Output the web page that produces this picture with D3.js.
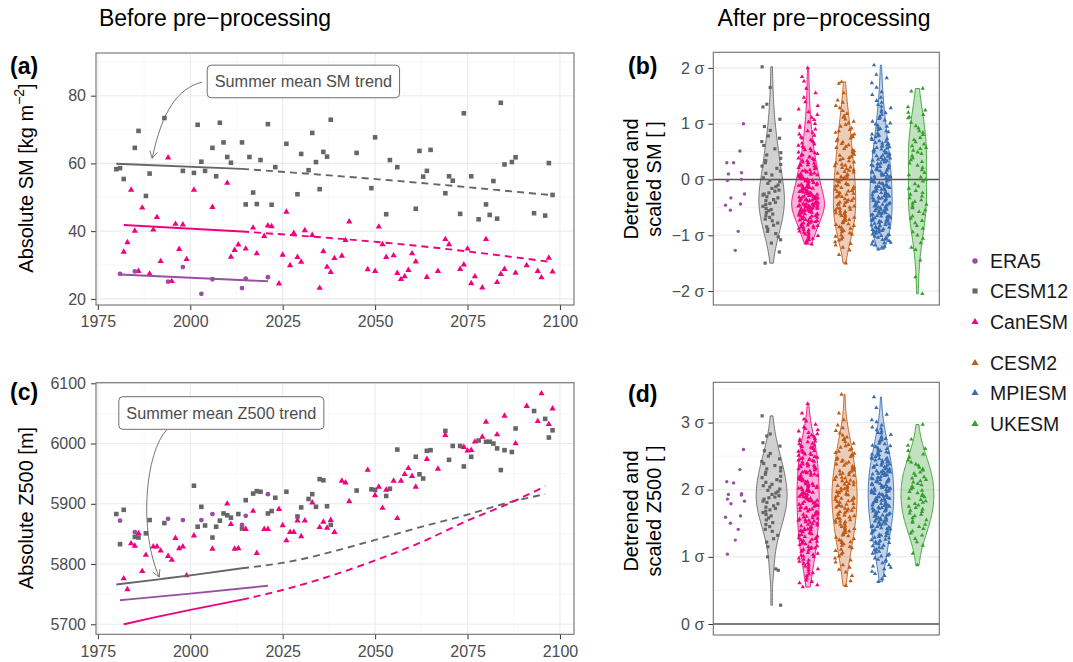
<!DOCTYPE html>
<html>
<head>
<meta charset="utf-8">
<script src="https://cdn.jsdelivr.net/npm/d3@7"></script>
<style>
  body { margin: 0; background: #fff; }
  svg text { font-family: "Liberation Sans", Arial, Helvetica, sans-serif; }
</style>
</head>
<body>
<svg id="chart" width="1073" height="662"></svg>
<script>
// ---- categories / ticks ----
const models = ["ERA5", "CESM12", "CanESM", "CESM2", "MPIESM", "UKESM"];
const modelColors = ["#984EA3", "#666666", "#F0027F", "#BF5B17", "#386CB0", "#33A02C"];
const yearTicks = [1975, 2000, 2025, 2050, 2075, 2100];
const smTicks = [20, 40, 60, 80];
const z500Ticks = [5700, 5800, 5900, 6000, 6100];
const sigmaTicksSM = [-2, -1, 0, 1, 2];
const sigmaTicksZ500 = [0, 1, 2, 3];

// ---- (a) summer mean SM, [year, kg m-2] ----
const smEra5 = [[1981,27.4],[1985,28.1],[1994,25.1],[1998,29.4],[2003,21.5],[2006,25.8],[2014,23.2],[2015,26.0],[2021,26.4]];
const smCesm12 = [[1980,58.3],[1981,58.6],[1982,55.4],[1985,64.6],[1986,69.6],[1988,50.4],[1989,57.0],[1993,73.4],[1998,57.8],[2001,57.2],[2002,71.4],[2003,60.5],[2004,57.8],[2006,64.6],[2007,56.2],[2008,72.0],[2009,66.2],[2010,61.9],[2011,60.2],[2014,66.2],[2015,47.9],[2016,61.9],[2017,51.4],[2018,48.0],[2019,61.0],[2021,71.6],[2022,47.8],[2023,58.9],[2026,65.8],[2029,50.9],[2030,62.8],[2032,58.0],[2033,69.0],[2034,60.4],[2035,52.4],[2036,63.4],[2037,62.0],[2038,72.9],[2045,63.1],[2049,52.7],[2050,67.7],[2053,45.0],[2054,61.0],[2056,58.9],[2061,46.6],[2062,63.7],[2063,56.1],[2064,57.8],[2065,64.0],[2069,51.2],[2070,56.2],[2071,54.9],[2073,45.1],[2074,74.8],[2076,56.2],[2078,43.5],[2080,47.9],[2081,44.8],[2082,54.8],[2083,43.7],[2084,77.9],[2085,59.7],[2087,60.4],[2088,61.8],[2093,45.3],[2096,44.6],[2097,60.1],[2098,50.7]];
const smCanesm = [[1982,33.9],[1983,36.7],[1984,52.2],[1985,40.1],[1986,28.2],[1987,46.9],[1989,27.4],[1990,40.4],[1991,44.1],[1992,31.1],[1994,61.7],[1995,25.2],[1996,42.1],[1997,34.7],[1998,41.9],[1999,31.7],[2001,52.2],[2006,47.1],[2010,54.2],[2011,32.4],[2012,34.4],[2013,36.0],[2015,34.8],[2017,41.0],[2018,33.4],[2020,38.5],[2021,41.6],[2022,41.4],[2024,24.5],[2025,33.0],[2026,45.7],[2027,29.9],[2028,39.4],[2029,32.3],[2030,30.9],[2031,40.2],[2033,38.8],[2035,23.2],[2036,34.0],[2037,29.4],[2038,27.9],[2039,32.0],[2041,32.7],[2042,37.3],[2043,42.8],[2048,28.7],[2050,28.2],[2051,41.3],[2052,36.1],[2053,32.3],[2055,32.8],[2056,27.6],[2057,25.8],[2058,26.6],[2059,28.5],[2060,33.4],[2061,31.0],[2064,26.4],[2067,28.2],[2069,37.6],[2070,36.1],[2073,28.8],[2074,30.1],[2075,34.8],[2076,24.6],[2077,26.6],[2079,23.3],[2080,37.6],[2083,24.9],[2084,27.3],[2085,28.8],[2088,27.7],[2091,29.9],[2094,28.2],[2095,26.3],[2097,32.1],[2098,28.0]];
// trends: historical (solid) and projection (dashed)
const smTrendEra5 = [[1981,27.2],[2021,25.2]];
const smTrendCesm12Hist = [[1980,59.9],[2014,58.4]];
const smTrendCesm12Proj = [[2014,58.4],[2051,55.3],[2097,50.7]];
const smTrendCanesmHist = [[1982,41.8],[2014,39.9]];
const smTrendCanesmProj = [[2014,39.9],[2062,35.6],[2097,31.0]];

// ---- (c) summer mean Z500, [year, m] ----
const zEra5 = [[1981,5872],[1985,5853],[1994,5875],[1998,5873],[2003,5873],[2006,5883],[2014,5865],[2015,5880],[2021,5916]];
const zCesm12 = [[1980,5883],[1981,5833],[1982,5890],[1985,5845],[1986,5844],[1988,5851],[1989,5873],[1993,5868],[2001,5930],[2002,5862],[2003,5895],[2004,5864],[2006,5844],[2007,5862],[2008,5872],[2009,5884],[2010,5881],[2011,5877],[2013,5883],[2014,5859],[2015,5906],[2017,5917],[2018,5921],[2019,5920],[2021,5884],[2022,5888],[2023,5910],[2026,5920],[2029,5879],[2030,5894],[2032,5908],[2033,5916],[2034,5895],[2035,5941],[2036,5939],[2037,5896],[2038,5865],[2045,5922],[2049,5924],[2050,5923],[2053,5913],[2054,5925],[2056,5990],[2061,5978],[2062,5949],[2063,5942],[2064,5988],[2065,5989],[2069,6021],[2070,5973],[2071,5996],[2073,5996],[2074,5962],[2076,5978],[2078,6005],[2080,6003],[2081,6003],[2082,6000],[2083,5992],[2084,5956],[2085,5989],[2087,5986],[2088,6025],[2093,6054],[2096,6041],[2097,6010],[2098,6022]];
const zCanesm = [[1982,5776],[1983,5758],[1984,5834],[1985,5830],[1986,5851],[1987,5788],[1988,5815],[1990,5829],[1991,5829],[1992,5822],[1994,5813],[1995,5807],[1996,5843],[1997,5826],[1998,5829],[1999,5781],[2001,5847],[2006,5825],[2010,5900],[2011,5866],[2012,5825],[2013,5826],[2015,5858],[2017,5888],[2018,5818],[2020,5858],[2021,5858],[2024,5891],[2025,5864],[2026,5839],[2027,5853],[2028,5853],[2029,5872],[2030,5846],[2031,5872],[2033,5902],[2035,5861],[2036,5870],[2037,5860],[2038,5873],[2039,5853],[2041,5938],[2042,5935],[2043,5904],[2048,5956],[2050,5914],[2051,5928],[2052,5893],[2053,5923],[2055,5938],[2056,5876],[2057,5938],[2058,5949],[2059,5959],[2060,5946],[2061,5928],[2064,5974],[2067,5958],[2069,6014],[2074,5994],[2075,5988],[2076,5989],[2077,6003],[2079,6011],[2080,6036],[2083,6015],[2085,6046],[2088,6000],[2091,6062],[2094,6037],[2095,6083],[2097,6032],[2098,6058]];
const zTrendEra5 = [[1981,5740],[2000,5751],[2021,5764]];
const zTrendCesm12Hist = [[1980,5766],[1992,5775],[2001,5782],[2014,5793]];
const zTrendCesm12Proj = [[2014,5793],[2025,5802],[2050,5840],[2062,5861],[2075,5882],[2086,5902],[2096,5916]];
const zTrendCanesmHist = [[1982,5700],[1990,5711],[2000,5724],[2014,5741]];
const zTrendCanesmProj = [[2014,5741],[2025,5757],[2050,5806],[2062,5835],[2075,5872],[2086,5900],[2096,5929]];

// ---- (b) detrended and scaled SM, values in hundredths of sigma ----
const vSmEra5 = [100,51,30,30,12,10,0,-2,-26,-33,-44,-46,-55,-93,-127];
const vSmCesm12 = [202,165,135,130,108,95,88,78,74,68,61,55,48,44,38,34,30,27,24,20,15,11,8,3,-2,-4,-7,-10,-13,-16,-19,-21,-24,-26,-28,-31,-33,-36,-38,-41,-43,-45,-48,-52,-54,-56,-59,-62,-65,-68,-71,-74,-78,-82,-85,-89,-93,-97,-103,-108,-114,-130,-150];
const vSmCanesm = [200,184,176,163,155,147,139,132,126,121,116,111,107,103,100,96,93,90,87,84,81,79,76,74,71,69,67,65,63,61,59,57,55,53,51,49,48,46,44,43,41,40,38,37,35,34,33,31,30,29,27,26,25,24,22,21,20,19,17,16,15,14,13,12,11,10,
  9,8,8,7,6,5,4,3,2,1,0,-1,-2,-2,-3,-4,-5,-6,-7,-8,-9,-10,-11,-11,-12,-13,-14,-15,-15,-16,-17,-18,-19,-20,
  -21,-21,-22,-23,-23,-24,-25,-26,-26,-27,-28,-29,-30,-31,-31,-32,-32,-33,-33,-34,-35,-35,-36,-36,-37,-37,-38,-39,-39,-40,
  -41,-41,-42,-42,-43,-43,-44,-44,-45,-45,-46,-46,-47,-47,-48,-48,-49,-50,-50,-51,-51,-52,-52,-53,-53,-54,-54,-55,-55,-56,-56,-57,-57,-58,-58,-59,-60,
  -61,-62,-62,-63,-64,-65,-66,-66,-67,-68,-69,-70,-71,-72,-73,-74,-74,-75,-76,-77,-78,-79,-80,
  -81,-82,-83,-84,-85,-86,-87,-88,-90,-91,-93,-94,-95,-97,-98,-100,-101,-103,-104,-106,-108,-110,-112,-114,-116];
const vSmCesm2 = [175,172,155,142,138,132,128,123,118,114,111,108,104,101,98,95,92,89,87,84,81,79,76,74,72,69,67,64,62,59,57,55,53,51,49,47,45,43,41,39,37,35,33,31,29,27,25,24,22,21,19,17,16,14,13,11,9,8,6,5,3,1,
  -1,-2,-4,-5,-7,-8,-10,-11,-12,-14,-15,-17,-18,-20,-21,-22,-24,-25,-27,-28,-30,-31,-32,-34,-35,-37,-38,-40,
  -41,-42,-44,-45,-47,-48,-50,-51,-52,-54,-55,-57,-58,-60,-61,-62,-64,-65,-67,-68,-70,-71,-72,-74,-75,-77,-78,-80,
  -81,-83,-85,-86,-88,-90,-92,-94,-96,-98,-100,-102,-104,-107,-109,-112,-115,-118,-122,-127,-135,-150];
const vSmMpiesm = [205,188,182,173,165,157,152,147,141,138,134,131,128,124,121,119,116,113,111,109,106,104,101,99,97,95,93,91,89,87,85,83,81,79,78,76,74,73,71,69,68,66,65,64,62,61,59,58,57,56,54,53,52,51,49,48,47,46,44,43,42,41,
  39,38,37,36,35,34,33,32,31,29,28,27,26,25,24,23,22,21,19,18,17,16,15,14,13,13,12,11,9,8,7,7,6,5,4,3,2,1,
  -1,-2,-3,-3,-4,-5,-6,-7,-8,-9,-10,-11,-12,-13,-13,-14,-15,-16,-17,-18,-19,-20,-21,-22,-23,-23,-24,-25,-26,-27,-28,-29,-30,
  -31,-32,-33,-33,-34,-35,-36,-37,-38,-39,-40,-41,-42,-43,-44,-44,-45,-46,-47,-48,-49,-50,-51,-52,-53,-54,-54,-55,-56,-57,-58,-59,-60,
  -61,-62,-63,-64,-65,-65,-66,-67,-68,-69,-70,-71,-72,-73,-74,-75,-75,-76,-77,-78,-79,-80,-81,-82,-83,-84,-85,-86,-87,-88,-89,-90,
  -91,-92,-93,-94,-95,-97,-98,-99,-100,-101,-102,-104,-105,-107,-108,-110,-111,-113,-114,-116,-118,-120,-122,-125];
const vSmUkesm = [163,158,130,124,120,116,112,110,102,96,92,87,84,80,75,71,67,63,60,57,55,52,49,46,42,38,35,32,29,25,21,17,12,8,4,0,-3,-8,-12,-16,-20,-24,-27,-30,-33,-37,-40,-43,-45,-48,-51,-55,-58,-62,-66,-70,-74,-78,-83,-88,-94,-100,-106,-114,-122,-126,-145,-175,-205];

// ---- (d) detrended and scaled Z500, values in hundredths of sigma ----
const vZEra5 = [260,230,212,210,194,193,192,186,183,179,161,159,150,141,125,104];
const vZCesm12 = [310,283,280,270,265,258,254,250,246,242,239,236,233,231,228,226,223,220,218,215,213,211,208,206,204,201,199,197,195,193,191,189,188,186,183,181,179,176,174,172,170,168,166,163,161,158,155,151,148,145,141,138,132,127,122,115,100,82,80,28];
const vZCanesm = [328,314,305,302,297,293,291,289,287,285,283,281,279,278,276,275,273,272,271,269,268,266,265,264,263,262,261,
  259,258,257,256,255,254,253,252,251,249,248,247,246,245,245,244,243,242,241,239,238,237,236,236,235,234,233,232,231,231,
  229,228,227,226,226,225,224,223,222,221,221,219,218,217,216,216,215,214,213,212,211,211,209,208,207,206,206,205,204,203,203,202,201,200,
  199,198,197,196,196,195,194,193,193,192,191,190,189,188,187,186,186,185,184,183,183,182,181,180,179,178,177,176,176,175,174,173,173,172,171,170,
  169,168,167,166,165,164,164,163,162,161,160,159,158,157,156,155,154,154,153,152,151,150,149,148,147,146,145,144,143,142,141,140,140,
  139,138,137,136,135,134,133,132,131,130,129,128,127,126,125,124,123,122,121,120,119,118,116,115,114,113,112,111,110,
  109,108,106,105,103,102,101,100,98,96,95,93,91,90,88,86,84,82,81,78,76,74,72,68,65,63,61,58,55];
const vZCesm2 = [342,314,304,296,292,288,284,281,278,276,274,271,269,267,265,263,261,259,257,255,254,252,251,249,247,245,244,242,241,
  239,238,236,235,233,232,231,229,228,227,225,224,223,222,221,219,218,217,215,214,213,212,211,209,208,207,206,205,204,203,202,201,
  199,198,197,196,195,194,193,192,191,189,188,187,186,185,184,183,182,181,179,178,177,176,175,174,173,172,171,
  169,168,167,166,164,163,162,161,159,158,157,155,154,153,152,151,149,148,146,145,143,142,141,139,138,136,135,133,132,131,
  129,127,125,124,122,121,119,117,115,113,111,109,106,104,101,98,95,92,88,84,81,77,72,64,57];
const vZMpiesm = [338,322,312,304,301,296,293,291,289,287,285,284,282,279,277,276,274,273,271,269,268,266,265,264,262,261,
  259,258,257,256,255,254,253,252,251,249,248,247,246,246,245,244,243,242,241,241,239,238,237,236,236,235,234,234,233,232,231,231,
  229,228,228,227,226,226,225,224,223,223,222,221,221,219,218,218,217,216,216,215,214,213,213,212,211,211,
  209,209,208,207,207,206,205,204,204,203,202,202,201,200,199,199,198,197,197,196,195,194,194,193,192,192,191,190,
  189,189,188,187,187,186,185,184,184,183,182,182,181,180,179,179,178,177,177,176,175,174,174,173,172,172,171,170,
  169,168,168,167,166,165,165,164,163,162,162,161,160,159,158,157,157,156,155,154,153,153,152,151,150,
  149,148,147,146,145,145,144,143,142,141,140,139,138,137,136,135,134,133,132,131,130,129,128,126,125,124,123,122,121,120,
  119,117,116,114,113,111,110,108,107,105,104,102,101,98,96,95,93,91,88,86,84,82,78,75,72,67,63];
const vZUkesm = [297,275,266,261,258,253,248,244,241,238,236,233,231,229,226,224,221,219,217,215,213,211,209,207,205,203,201,199,197,195,193,191,189,187,185,183,181,179,177,175,173,171,169,167,165,163,161,158,155,153,151,148,145,142,138,135,132,127,122,117,105,88];

// ---- drawing ----
const svg = d3.select("#chart");
const color = d3.scaleOrdinal().domain(models).range(modelColors);
const shape = d3.scaleOrdinal().domain(models)
  .range([d3.symbolCircle, d3.symbolSquare, d3.symbolTriangle, d3.symbolTriangle, d3.symbolTriangle, d3.symbolTriangle]);
const symSize = m => m === "ERA5" ? 18 : m === "CESM12" ? 21 : 17;
const symSizeSmall = m => m === "ERA5" ? 9 : m === "CESM12" ? 10 : 8;

const panels = {
  a: { left: 96, right: 574, top: 53, bottom: 305 },
  b: { left: 713.3, right: 939.3, top: 52.3, bottom: 305 },
  c: { left: 96, right: 574, top: 382.7, bottom: 634.3 },
  d: { left: 713.3, right: 939.3, top: 382.3, bottom: 635 }
};

function minors(ticks, domain) {
  const step = ticks[1] - ticks[0];
  const lo = Math.min(...domain), hi = Math.max(...domain);
  return [ticks[0] - step / 2, ...ticks.map(t => t + step / 2)].filter(v => v > lo && v < hi);
}

function hGrid(g, y, b, values, w, c) {
  g.selectAll(null).data(values).join("line")
    .attr("x1", b.left).attr("x2", b.right)
    .attr("y1", y).attr("y2", y)
    .attr("stroke", c).attr("stroke-width", w);
}
function vGrid(g, x, b, values, w, c) {
  g.selectAll(null).data(values).join("line")
    .attr("x1", x).attr("x2", x)
    .attr("y1", b.top).attr("y2", b.bottom)
    .attr("stroke", c).attr("stroke-width", w);
}

function styleAxis(sel) {
  sel.attr("font-size", null).attr("font-family", null);
  sel.select(".domain").remove();
  sel.selectAll(".tick line").attr("stroke", "#333").attr("stroke-width", 1);
  sel.selectAll(".tick text").attr("fill", "#4d4d4d").style("font-size", "16px");
}

function border(g, b) {
  g.append("rect").attr("x", b.left).attr("y", b.top)
    .attr("width", b.right - b.left).attr("height", b.bottom - b.top)
    .attr("fill", "none").attr("stroke", "#707070").attr("stroke-width", 1.1);
}

function scatterPanel(b, yDomain, yTicks, series, trends, note) {
  const x = d3.scaleLinear().domain([1974.5, 2103.8]).range([b.left, b.right]);
  const y = d3.scaleLinear().domain(yDomain).range([b.bottom, b.top]);
  const g = svg.append("g");

  vGrid(g, x, b, minors(yearTicks, x.domain()), 0.6, "#f3f3f3");
  hGrid(g, y, b, minors(yTicks, y.domain()), 0.6, "#f3f3f3");
  vGrid(g, x, b, yearTicks, 1.1, "#ebebeb");
  hGrid(g, y, b, yTicks, 1.1, "#ebebeb");

  g.append("g").attr("transform", `translate(0,${b.bottom})`)
    .call(d3.axisBottom(x).tickValues(yearTicks).tickSize(5).tickPadding(6).tickFormat(d3.format("d")))
    .call(styleAxis);
  g.append("g").attr("transform", `translate(${b.left},0)`)
    .call(d3.axisLeft(y).tickValues(yTicks).tickSize(5).tickPadding(5).tickFormat(d3.format("d")))
    .call(styleAxis);

  series.forEach(s => {
    g.append("g").selectAll("path").data(s.data).join("path")
      .attr("transform", d => `translate(${x(d[0])},${y(d[1])})`)
      .attr("d", d3.symbol(shape(s.model), symSize(s.model)))
      .attr("fill", color(s.model));
  });

  const line = d3.line().x(d => x(d[0])).y(d => y(d[1])).curve(d3.curveMonotoneX);
  trends.forEach(t => {
    g.append("path").attr("d", line(t.hist)).attr("fill", "none")
      .attr("stroke", color(t.model)).attr("stroke-width", 1.9);
    if (t.proj) {
      g.append("path").attr("d", line(t.proj)).attr("fill", "none")
        .attr("stroke", color(t.model)).attr("stroke-width", 1.9)
        .attr("stroke-dasharray", "7,5");
    }
  });

  // annotation label + curved arrow
  const cx = x(note.label[0]), cy = y(note.label[1]);
  const lab = g.append("text").attr("x", cx).attr("y", cy)
    .attr("text-anchor", "middle").attr("dominant-baseline", "central")
    .attr("fill", "#4d4d4d").style("font-size", "16.3px").text(note.text);
  const tw = lab.node().getComputedTextLength();
  g.insert("rect", () => lab.node())
    .attr("x", cx - tw / 2 - 7.5).attr("y", cy - 16.3)
    .attr("width", tw + 15).attr("height", 32.6).attr("rx", 4)
    .attr("fill", "#fff").attr("stroke", "#5f5f5f").attr("stroke-width", 0.9);
  const s = [x(note.from[0]), y(note.from[1])], e = [x(note.to[0]), y(note.to[1])];
  const c1 = [s[0] + note.c1[0], s[1] + note.c1[1]], c2 = [e[0] + note.c2[0], e[1] + note.c2[1]];
  const p = d3.path();
  p.moveTo(...s);
  p.bezierCurveTo(...c1, ...c2, ...e);
  const ang = Math.atan2(e[1] - c2[1], e[0] - c2[0]);
  const hl = 8, ha = 0.5;
  p.moveTo(e[0] - hl * Math.cos(ang - ha), e[1] - hl * Math.sin(ang - ha));
  p.lineTo(...e);
  p.lineTo(e[0] - hl * Math.cos(ang + ha), e[1] - hl * Math.sin(ang + ha));
  g.append("path").attr("d", p.toString()).attr("fill", "none")
    .attr("stroke", "#666").attr("stroke-width", 0.9);

  border(g, b);
}

function kde(values) {
  const v = values.slice().sort(d3.ascending);
  const n = v.length;
  const iqr = d3.quantile(v, 0.75) - d3.quantile(v, 0.25);
  const bw = 0.9 * Math.min(d3.deviation(v), iqr / 1.34) * Math.pow(n, -0.2);
  const lo = v[0], hi = v[n - 1];
  return d3.range(121).map(i => {
    const t = lo + (hi - lo) * i / 120;
    return [t, d3.mean(v, u => Math.exp(-0.5 * ((t - u) / bw) ** 2)) / (bw * Math.sqrt(2 * Math.PI))];
  });
}

// deterministic horizontal jitter offset in [-1, 1]
const jitter = i => { const h = Math.sin(i * 78.233 + 12.9898) * 43758.5453; return (h - Math.floor(h)) * 2 - 1; };

function violinPanel(b, yDomain, yTicks, series) {
  const x = d3.scalePoint().domain(models).range([b.left, b.right]).padding(0.6);
  const y = d3.scaleLinear().domain(yDomain).range([b.bottom, b.top]);
  const g = svg.append("g");

  hGrid(g, y, b, minors(yTicks, y.domain()), 0.6, "#f0f0f0");
  hGrid(g, y, b, yTicks, 1.1, "#ebebeb");

  g.append("g").attr("transform", `translate(${b.left},0)`)
    .call(d3.axisLeft(y).tickValues(yTicks).tickSize(5).tickPadding(4)
      .tickFormat(d => (d < 0 ? "\u2212" + (-d) : d) + " \u03c3"))
    .call(styleAxis);

  const sets = series.map(s => ({ model: s.model, vals: s.values.map(v => v / 100) }));
  const withViolin = sets.filter(s => s.model !== "ERA5").map(s => ({ ...s, dens: kde(s.vals) }));
  const maxD = d3.max(withViolin, s => d3.max(s.dens, p => p[1]));
  const w = d3.scaleLinear().domain([0, maxD]).range([0, 0.45 * x.step()]);

  withViolin.forEach(s => {
    const cx = x(s.model);
    g.append("path").datum(s.dens)
      .attr("d", d3.area().y(p => y(p[0])).x0(p => cx - w(p[1])).x1(p => cx + w(p[1])))
      .attr("fill", color(s.model)).attr("fill-opacity", 0.3)
      .attr("stroke", color(s.model)).attr("stroke-width", 0.9);
  });

  g.append("line").attr("x1", b.left).attr("x2", b.right)
    .attr("y1", y(0)).attr("y2", y(0))
    .attr("stroke", "#555").attr("stroke-width", 1.6);

  const jw = 0.27 * x.step();
  sets.forEach((s, k) => {
    const cx = x(s.model);
    g.append("g").selectAll("path").data(s.vals).join("path")
      .attr("transform", (d, i) => `translate(${cx + jitter(i + 97 * k) * jw},${y(d)})`)
      .attr("d", d3.symbol(shape(s.model), symSizeSmall(s.model)))
      .attr("fill", color(s.model));
  });

  border(g, b);
}

scatterPanel(panels.a, [18.2, 92.6], smTicks,
  [{ model: "CESM12", data: smCesm12 }, { model: "CanESM", data: smCanesm }, { model: "ERA5", data: smEra5 }],
  [{ model: "CESM12", hist: smTrendCesm12Hist, proj: smTrendCesm12Proj },
   { model: "CanESM", hist: smTrendCanesmHist, proj: smTrendCanesmProj },
   { model: "ERA5", hist: smTrendEra5 }],
  { text: "Summer mean SM trend", label: [2030.6, 84.2], from: [2003.2, 84.0], to: [1989.7, 61.5],
    c1: [-24, 6], c2: [10, -48] });

scatterPanel(panels.c, [5683.4, 6101], z500Ticks,
  [{ model: "CESM12", data: zCesm12 }, { model: "CanESM", data: zCanesm }, { model: "ERA5", data: zEra5 }],
  [{ model: "CESM12", hist: zTrendCesm12Hist, proj: zTrendCesm12Proj },
   { model: "CanESM", hist: zTrendCanesmHist, proj: zTrendCanesmProj },
   { model: "ERA5", hist: zTrendEra5 }],
  { text: "Summer mean Z500 trend", label: [2008.4, 6050.7], from: [1993.6, 6022.5], to: [1991.6, 5778.4],
    c1: [-21, 22], c2: [-21, -47] });

violinPanel(panels.b, [-2.25, 2.28], sigmaTicksSM,
  [{ model: "ERA5", values: vSmEra5 }, { model: "CESM12", values: vSmCesm12 }, { model: "CanESM", values: vSmCanesm },
   { model: "CESM2", values: vSmCesm2 }, { model: "MPIESM", values: vSmMpiesm }, { model: "UKESM", values: vSmUkesm }]);

violinPanel(panels.d, [-0.164, 3.6], sigmaTicksZ500,
  [{ model: "ERA5", values: vZEra5 }, { model: "CESM12", values: vZCesm12 }, { model: "CanESM", values: vZCanesm },
   { model: "CESM2", values: vZCesm2 }, { model: "MPIESM", values: vZMpiesm }, { model: "UKESM", values: vZUkesm }]);

// ---- titles and labels ----
svg.append("text").attr("x", 215).attr("y", 26).attr("text-anchor", "middle")
  .style("font-size", "23px").text("Before pre\u2212processing");
svg.append("text").attr("x", 824).attr("y", 26).attr("text-anchor", "middle")
  .style("font-size", "23px").text("After pre\u2212processing");

[["(a)", 10, 74], ["(b)", 628, 74], ["(c)", 10, 400], ["(d)", 628, 402]].forEach(([t, px, py]) => {
  svg.append("text").attr("x", px).attr("y", py).style("font-size", "23px")
    .style("font-weight", "bold").text(t);
});

const smTitle = svg.append("text").attr("transform", "translate(26,178) rotate(-90)")
  .attr("text-anchor", "middle").attr("dominant-baseline", "central").style("font-size", "20px");
smTitle.append("tspan").text("Absolute SM [kg m");
smTitle.append("tspan").attr("dy", -7).style("font-size", "14px").text("\u22122");
smTitle.append("tspan").attr("dy", 7).text("]");

svg.append("text").attr("transform", "translate(26,508) rotate(-90)")
  .attr("text-anchor", "middle").attr("dominant-baseline", "central").style("font-size", "20px")
  .text("Absolute Z500 [m]");

[[179, "scaled SM [ ]"], [511, "scaled Z500 [ ]"]].forEach(([cy, second]) => {
  const t = svg.append("g").attr("transform", `translate(642,${cy}) rotate(-90)`);
  t.append("text").attr("y", -11.5).attr("text-anchor", "middle").attr("dominant-baseline", "central")
    .style("font-size", "20px").text("Detrened and");
  t.append("text").attr("y", 11.5).attr("text-anchor", "middle").attr("dominant-baseline", "central")
    .style("font-size", "20px").text(second);
});

// ---- legend ----
const legendY = d3.scaleOrdinal().domain(models).range([261, 291, 322, 363, 393, 424]);
const legend = svg.append("g");
models.forEach(m => {
  legend.append("path").attr("transform", `translate(975,${legendY(m)})`)
    .attr("d", d3.symbol(shape(m), m === "ERA5" ? 24 : m === "CESM12" ? 26 : 22)).attr("fill", color(m));
  legend.append("text").attr("x", 990).attr("y", legendY(m)).attr("dominant-baseline", "central")
    .attr("fill", "#1a1a1a").style("font-size", "19.5px").text(m);
});
</script>
</body>
</html>
